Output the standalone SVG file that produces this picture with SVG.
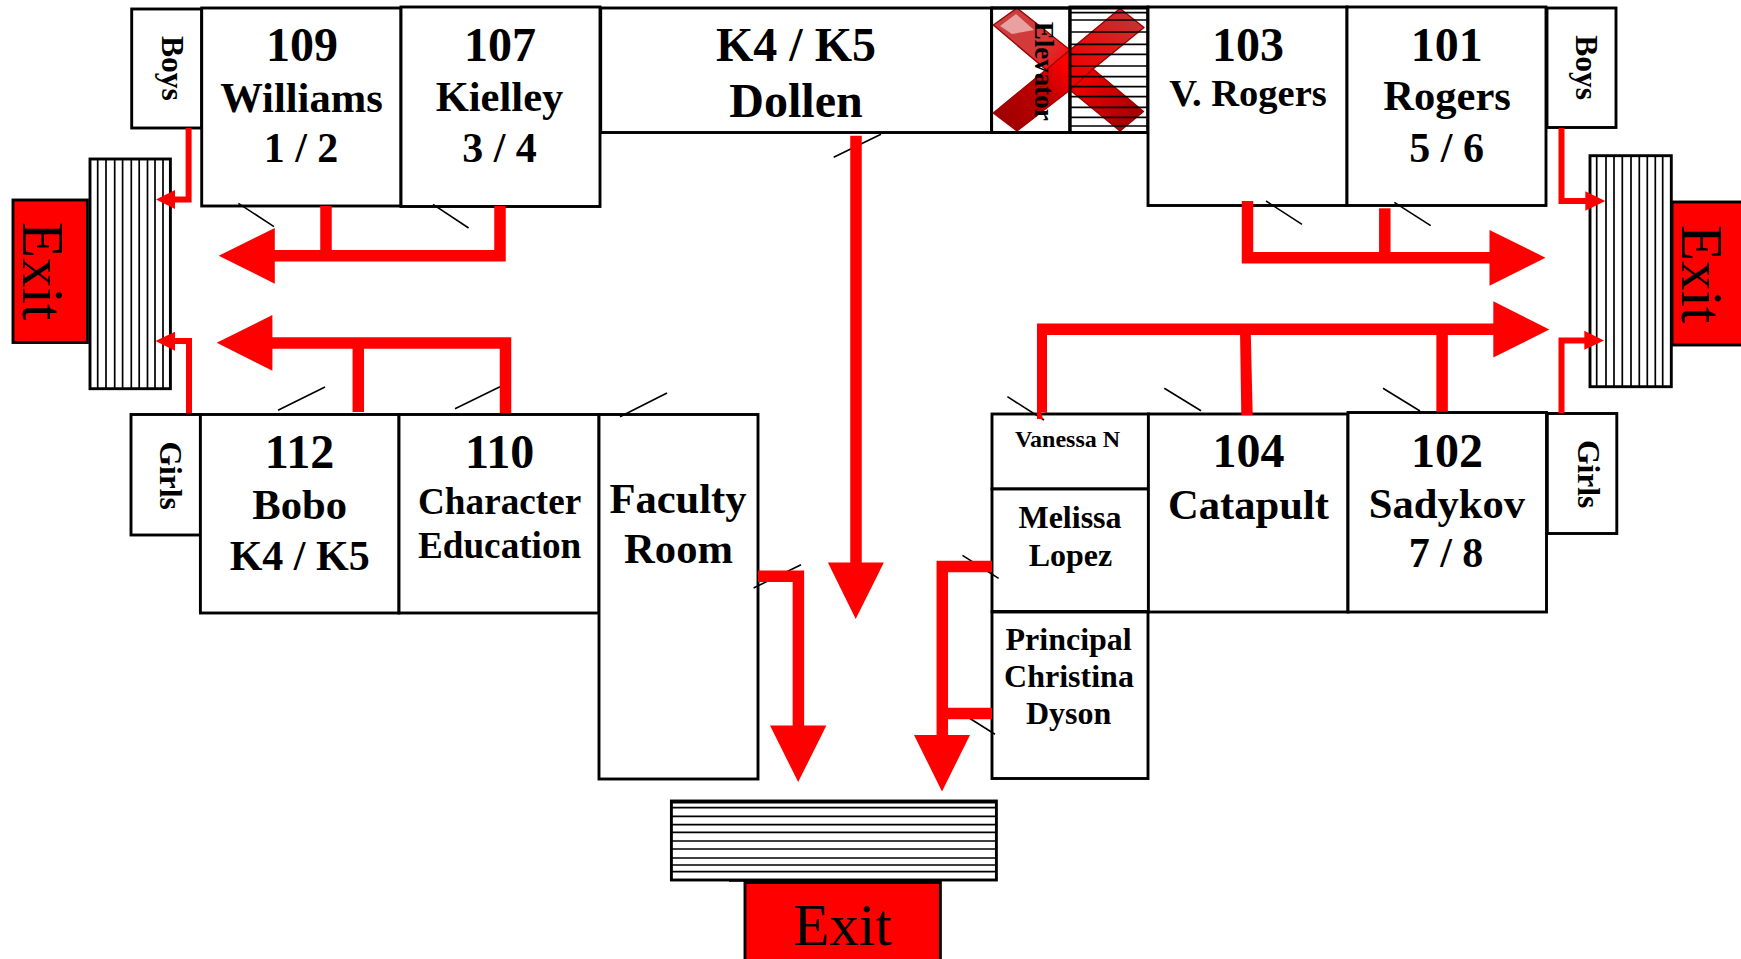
<svg xmlns="http://www.w3.org/2000/svg" width="1741" height="959" viewBox="0 0 1741 959">
<style>
.room{fill:#fff;stroke:#000;stroke-width:2.9}
.t{font-family:"Liberation Serif","Times New Roman",serif;font-weight:bold;fill:#000;text-anchor:middle}
.s48{font-size:48px}.s43{font-size:42.6px}.s42{font-size:42px}.s38{font-size:38.5px}.s37{font-size:37.2px}.s32{font-size:32px}.s24{font-size:24px}
.v{font-family:"Liberation Serif","Times New Roman",serif;font-weight:bold;fill:#000;font-size:31.5px}
.exitbox{fill:#f00;stroke:#000;stroke-width:2.9}
.exit{font-family:"Liberation Serif","Times New Roman",serif;font-size:59px;fill:#000}
.hatch{stroke:#000;stroke-width:1.7;fill:none}
.tick{stroke:#000;stroke-width:1.6;fill:none}
.head{fill:#f00;stroke:none}
.big{fill:none;stroke:#f00;stroke-width:11.5}
.thin{fill:none;stroke:#f00;stroke-width:6}
</style>
<defs>
<linearGradient id="armTL" gradientUnits="userSpaceOnUse" x1="1005" y1="16" x2="1070" y2="70"><stop offset="0" stop-color="#c84040"/><stop offset=".55" stop-color="#d83838"/><stop offset="1" stop-color="#f00"/></linearGradient>
<linearGradient id="armBL" gradientUnits="userSpaceOnUse" x1="1005" y1="122" x2="1070" y2="70"><stop offset="0" stop-color="#a00000"/><stop offset=".6" stop-color="#c00000"/><stop offset="1" stop-color="#f00"/></linearGradient>
<linearGradient id="armTR" gradientUnits="userSpaceOnUse" x1="1132" y1="18" x2="1070" y2="70"><stop offset="0" stop-color="#c83030"/><stop offset="1" stop-color="#f00000"/></linearGradient>
<linearGradient id="armBR" gradientUnits="userSpaceOnUse" x1="1132" y1="122" x2="1070" y2="70"><stop offset="0" stop-color="#a80000"/><stop offset="1" stop-color="#f00"/></linearGradient>
</defs>
<rect width="1741" height="959" fill="#fff"/>

<g id="boys-left"><rect class="room" x="131.7" y="9" width="70" height="119"/><text class="v" transform="translate(161.5,36) rotate(90)">Boys</text></g>
<g id="room-109"><rect class="room" x="201.7" y="8" width="199.3" height="198"/><text class="t s48" x="302" y="61">109</text><text class="t s43" x="301.5" y="112">Williams</text><text class="t s42" x="301" y="161.5">1 / 2</text></g>
<g id="room-107"><rect class="room" x="401" y="7" width="199" height="199.5"/><text class="t s48" x="500" y="61">107</text><text class="t s43" x="499.5" y="111">Kielley</text><text class="t s42" x="499.5" y="161.5">3 / 4</text></g>
<g id="room-k4k5"><rect class="room" x="600.7" y="8" width="391" height="124.5"/><text class="t s48" x="796" y="61">K4 / K5</text><text class="t s48" x="796" y="117">Dollen</text></g>
<g id="elevator"><rect class="room" x="991.6" y="8" width="78.4" height="124.5"/></g>
<g id="elevator-shaft"><rect class="room" x="1070" y="7" width="78" height="125.5"/></g>
<g id="elevator-cross" stroke="#a00000" stroke-width="1.4" stroke-linejoin="round">
<polygon fill="url(#armTL)" points="993.3,25 1017,8 1070,50 1070,90"/>
<polygon fill="url(#armBL)" points="993.3,113 1017,131 1070,90 1070,50"/>
<polygon fill="url(#armTR)" points="1120,8.5 1144,27.5 1093,69 1070,90 1070,50"/>
<polygon fill="url(#armBR)" points="1143.5,111.5 1120,131 1070,90 1093,69"/>
<polygon fill="#e8a0a0" stroke="none" points="1000,26 1016,14 1034,30 1012,34"/>
</g>
<g id="elevator-lines" class="hatch">
<path d="M1070 12.7H1148M1070 20H1148M1070 32H1148M1070 44.3H1148M1070 54.3H1148M1070 66H1148M1070 76.7H1148M1070 86.7H1148M1070 96.7H1148M1070 107.3H1148M1070 117.3H1148M1070 126H1148"/>
<path d="M991.6 8V132.5M1070 7V132.5M1148 7V132.5M991.6 8H1148M991.6 132.5H1148" stroke-width="2.9"/>
</g>
<text class="v" style="font-size:27px" transform="translate(1034.5,21.7) rotate(90)">Elevator</text>
<g id="room-103"><rect class="room" x="1148" y="7" width="199" height="198.5"/><text class="t s48" x="1248" y="61">103</text><text class="t s38" x="1248" y="106">V. Rogers</text></g>
<g id="room-101"><rect class="room" x="1347" y="7" width="199" height="198.5"/><text class="t s48" x="1446.7" y="61">101</text><text class="t s43" x="1447" y="110">Rogers</text><text class="t s42" x="1446.7" y="161.5">5 / 6</text></g>
<g id="boys-right"><rect class="room" x="1547" y="8" width="69" height="119.5"/><text class="v" transform="translate(1575.5,35.3) rotate(90)">Boys</text></g>

<g id="stairs-left"><rect class="room" x="90" y="159" width="80.4" height="229.7"/><path class="hatch" d="M97.7 159V388.7M106 159V388.7M114.7 159V388.7M122.6 159V388.7M131.3 159V388.7M139.2 159V388.7M147.5 159V388.7M155 159V388.7M163 159V388.7"/></g>
<g id="exit-left"><rect class="exitbox" x="13" y="200" width="74.4" height="142.5"/><text class="exit" transform="translate(22.5,222) rotate(90)">Exit</text></g>
<g id="stairs-right"><rect class="room" x="1590" y="155.7" width="81.3" height="231"/><path class="hatch" d="M1596.7 155.7V386.7M1606 155.7V386.7M1614 155.7V386.7M1622.3 155.7V386.7M1631 155.7V386.7M1639.3 155.7V386.7M1647.3 155.7V386.7M1655.3 155.7V386.7M1662.7 155.7V386.7"/></g>
<g id="exit-right"><rect class="exitbox" x="1672" y="202" width="72" height="143"/><text class="exit" transform="translate(1681.5,225) rotate(90)">Exit</text></g>

<g id="girls-left"><rect class="room" x="131" y="414.5" width="69.4" height="120.5"/><text class="v" transform="translate(159.5,441.5) rotate(90)">Girls</text></g>
<g id="room-112"><rect class="room" x="200.4" y="414.5" width="198.6" height="198.5"/><text class="t s48" x="299.5" y="468">112</text><text class="t s43" x="299.7" y="519">Bobo</text><text class="t s42" x="299.7" y="569.5">K4 / K5</text></g>
<g id="room-110"><rect class="room" x="399" y="414.5" width="200" height="198.5"/><text class="t s48" x="499.6" y="468">110</text><text class="t s37" x="499.6" y="514">Character</text><text class="t s37" x="499.6" y="558">Education</text></g>
<g id="faculty-room"><rect class="room" x="599" y="414.5" width="159" height="364.5"/><text class="t s43" x="678" y="513">Faculty</text><text class="t s43" x="678.5" y="562.5">Room</text></g>
<g id="vanessa"><rect class="room" x="992" y="414" width="156.4" height="75"/><text class="t s24" x="1067.5" y="446.5">Vanessa N</text></g>
<g id="melissa"><rect class="room" x="992" y="489" width="156.4" height="122.5"/><text class="t s32" x="1070" y="527.5">Melissa</text><text class="t s32" x="1070.5" y="566">Lopez</text></g>
<g id="principal"><rect class="room" x="992" y="612" width="156" height="166.5"/><text class="t s32" x="1068.6" y="649.5">Principal</text><text class="t s32" x="1069" y="686.5">Christina</text><text class="t s32" x="1068.6" y="724">Dyson</text></g>
<g id="room-104"><rect class="room" x="1148.4" y="414" width="199.5" height="198"/><text class="t s48" x="1248.5" y="466.7">104</text><text class="t s43" x="1248.5" y="519">Catapult</text></g>
<g id="room-102"><rect class="room" x="1348" y="412.5" width="198.5" height="199.5"/><text class="t s48" x="1447" y="466.7">102</text><text class="t s43" x="1447" y="518">Sadykov</text><text class="t s42" x="1446" y="567">7 / 8</text></g>
<g id="girls-right"><rect class="room" x="1547.3" y="413.5" width="69.5" height="120"/><text class="v" transform="translate(1577.5,440) rotate(90)">Girls</text></g>

<g id="stairs-bottom"><rect class="room" x="671.4" y="801" width="325" height="79"/><path class="hatch" d="M671.4 802.7H996.4M671.4 807.7H996.4M671.4 816.3H996.4M671.4 824.7H996.4M671.4 832.3H996.4M671.4 841H996.4M671.4 849H996.4M671.4 858H996.4M671.4 865H996.4M671.4 871.7H996.4"/><path class="tick" stroke-width="2" d="M729 881H932"/></g>
<g id="exit-bottom"><rect class="exitbox" x="745" y="882.5" width="195.4" height="78"/><text class="exit" x="793.5" y="945">Exit</text></g>

<g id="door-ticks" class="tick">
<path d="M238.4 203.3L274 226.7M433 204.3L468.6 228M278 410.3L325 387M455 408.7L500 386.7M620 416.7L667 393M833.7 157.3L881 134.3M753.6 588L801 564.7M962.5 555.3L998.6 578.3M966 716L995 734.3M1266 201L1302 224.3M1394.3 202.3L1430.7 225.7M1383 388.3L1420 411M1164.3 388.3L1201 410.7M1007.4 396.7L1044 420"/>
</g>

<g id="connectors">
<polyline class="thin" points="188.6,128 188.6,199.6 172,199.6"/>
<polygon class="head" points="156,199.6 175,190 175,209"/>
<polyline class="thin" points="189,413 189,341 172,341"/>
<polygon class="head" points="155.4,341 175,331.7 175,350.7"/>
<polyline class="big" points="500,206 500,255.7 270,255.7"/>
<path class="big" stroke-width="11" d="M326 206V255"/>
<polygon class="head" points="218.7,255.7 274.8,228 274.8,283.7"/>
<polyline class="big" points="505.5,413 505.5,343 268,343"/>
<path class="big" d="M358.3 412V343"/>
<polygon class="head" points="216.7,342.7 272.4,315 272.4,370.7"/>
<polyline class="thin" points="1561.5,128 1561.5,201 1588,201"/>
<polygon class="head" points="1605.3,201 1585.3,191.3 1585.3,210.7"/>
<polyline class="thin" points="1561.5,413 1561.5,340.5 1588,340.5"/>
<polygon class="head" points="1604,340.5 1584.3,330.8 1584.3,349.8"/>
<polyline class="big" points="1247.5,201 1247.5,257.7 1494,257.7"/>
<path class="big" stroke-width="11" d="M1384.8 208.3V258"/>
<polygon class="head" points="1545.5,257.7 1489.5,230 1489.5,285.7"/>
<path class="head" d="M1037 323.6H1498V335H1047V413L1041 412L1043 419H1037Z"/>
<polygon class="head" points="1240,330 1250.7,330 1252.7,415 1241.3,415"/>
<path class="big" stroke-width="11" d="M1442.1 330V411.7"/>
<polygon class="head" points="1549.3,329.6 1493.3,301.3 1493.3,357.6"/>
<path class="big" stroke-width="11" d="M856 135.7V566"/>
<polygon class="head" points="855.7,619 827.9,562.5 883.9,562.5"/>
<polyline class="big" points="758,576.2 798.4,576.2 798.4,730"/>
<polygon class="head" points="798.2,782 770,725.5 826.4,725.5"/>
<polyline class="big" points="992,566.5 942.3,566.5 942.3,740"/>
<path class="big" d="M942 713.4H992"/>
<polygon class="head" points="942,791.5 914,735 970,735"/>
</g>
</svg>
